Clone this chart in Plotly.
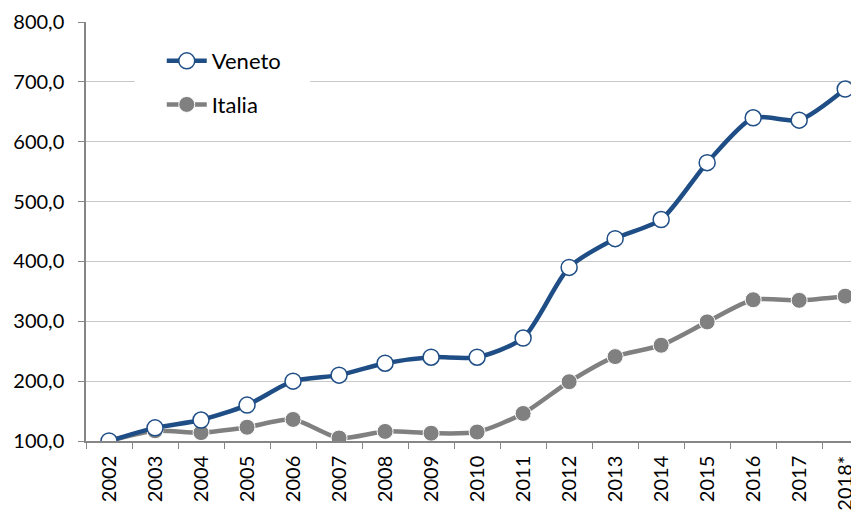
import plotly.graph_objects as go

years = ['2002', '2003', '2004', '2005', '2006', '2007', '2008', '2009', '2010',
         '2011', '2012', '2013', '2014', '2015', '2016', '2017', '2018*']
veneto = [100, 122, 135, 160, 200, 210, 230, 240, 240, 272, 390, 438, 470, 565, 640, 636, 688]
italia = [100, 117, 114, 123, 136, 105, 116, 113, 115, 146, 199, 241, 260, 299, 336, 335, 342]

fig = go.Figure()
fig.add_trace(go.Scatter(
    x=years, y=italia, name='Italia', mode='lines+markers',
    line=dict(color='#808080', width=4.5, shape='spline', smoothing=0.7),
    marker=dict(size=16, color='#808080', line=dict(color='white', width=1)),
    legendgroup='b', legendrank=2,
))
fig.add_trace(go.Scatter(
    x=years, y=veneto, name='Veneto', mode='lines+markers',
    line=dict(color='#1F4E86', width=4.5, shape='spline', smoothing=0.7),
    marker=dict(size=16, color='white', line=dict(color='#1F4E86', width=1.5)),
    legendgroup='a', legendrank=1,
))

# white box behind the legend, hiding the gridline like the original
fig.add_shape(type='rect', xref='paper', yref='paper',
              x0=0.063, x1=0.29, y0=0.755, y1=0.96,
              fillcolor='white', line=dict(width=0), layer='above')

# the page body has an 8px margin, so the figure is 8px smaller
fig.update_layout(
    width=851, height=504,
    margin=dict(l=78, r=0, t=14, b=71),
    paper_bgcolor='white', plot_bgcolor='white',
    font=dict(family='Lato', size=18, color='black'),
    separators=',.',
    showlegend=True,
    legend=dict(x=0.098, y=0.957, xanchor='left', yanchor='top',
                bgcolor='rgba(0,0,0,0)', font=dict(size=22), tracegroupgap=12,
                itemwidth=40),
)
fig.update_xaxes(
    type='category', range=[-0.5, 16.3], tickangle=-90,
    showline=True, linecolor='#868686', linewidth=1.5,
    ticks='outside', tickson='boundaries', ticklen=6, tickcolor='#868686',
    showgrid=False, tickfont=dict(size=20), ticklabelstandoff=5,
    automargin=False,
)
fig.update_yaxes(
    range=[100, 800], dtick=100, tickformat='.1f',
    showline=True, linecolor='#868686', linewidth=1.5,
    ticks='outside', ticklen=6, tickcolor='#868686',
    showgrid=True, gridcolor='#c8c8c8', gridwidth=1,
    zeroline=False, tickfont=dict(size=20), ticklabelstandoff=10,
    automargin=False,
)

fig.write_html('out.html')
